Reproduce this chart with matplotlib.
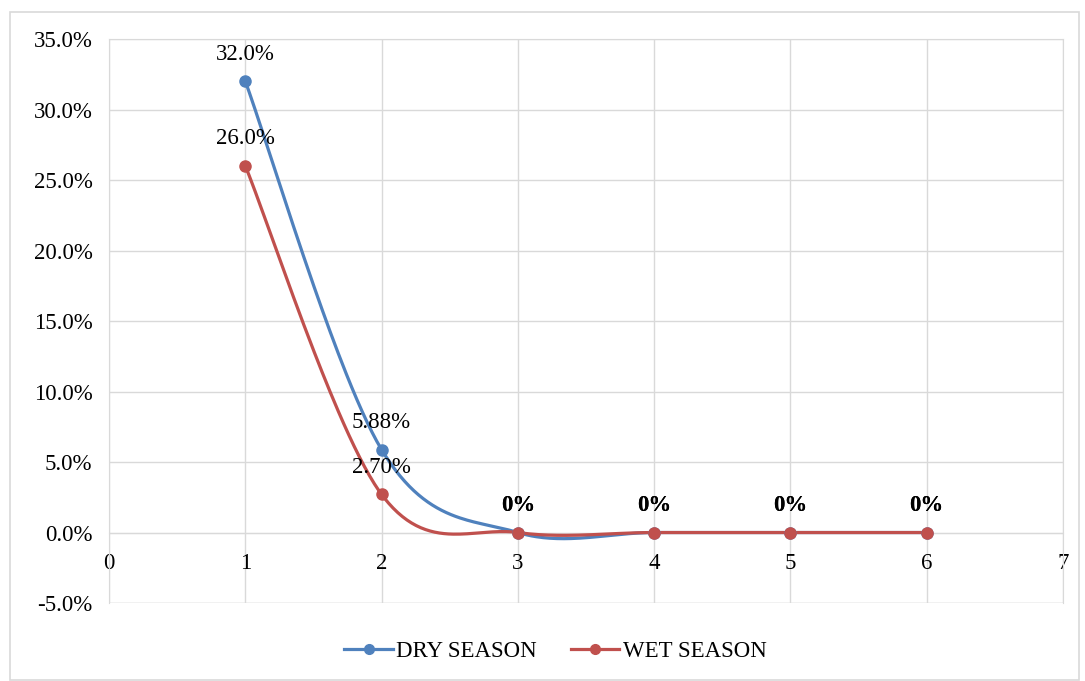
import numpy as np
import matplotlib.pyplot as plt
from matplotlib.lines import Line2D
from matplotlib.patches import Rectangle

# ── DATOS ────────────────────────────────────────────────────────────────────
x_vals      = [1, 2, 3, 4, 5, 6]
dry_season  = [32.0, 5.88, 0.0, 0.0, 0.0, 0.0]   # %
wet_season  = [26.0, 2.70, 0.0, 0.0, 0.0, 0.0]   # %
dry_labels  = ["32.0%", "5.88%", "0%", "0%", "0%", "0%"]
wet_labels  = ["26.0%", "2.70%", "0%", "0%", "0%", "0%"]

AZUL = "#4F81BD"
ROJO = "#C0504D"
GRIS = "#D9D9D9"
FS   = 16.5

plt.rcParams["font.family"] = ["Liberation Serif", "DejaVu Serif"]


def suavizar(xs, ys, n=60):
    """Curva suave tipo Catmull-Rom con tramos Bezier cúbicos."""
    p = np.column_stack([xs, ys]).astype(float)
    p = np.vstack([p[0], p, p[-1]])
    out = []
    for i in range(1, len(p) - 2):
        p0, p1, p2, p3 = p[i - 1], p[i], p[i + 1], p[i + 2]
        c1 = p1 + (p2 - p0) / 6
        c2 = p2 - (p3 - p1) / 6
        t = np.linspace(0, 1, n)[:, None]
        seg = ((1 - t) ** 3) * p1 + 3 * ((1 - t) ** 2) * t * c1 \
            + 3 * (1 - t) * t ** 2 * c2 + t ** 3 * p2
        out.append(seg)
    curva = np.vstack(out)
    return curva[:, 0], curva[:, 1]


fig = plt.figure(figsize=(10.85, 6.81), dpi=100)
ax = fig.add_axes([0.1005, 0.1145, 0.8792, 0.8282])

# marco exterior del gráfico
fig.patches.append(Rectangle((10 / 1085, 0.002), 1069 / 1085, 1 - 12 / 681 - 0.002,
                             transform=fig.transFigure, fill=False,
                             edgecolor=GRIS, linewidth=1.2))

for serie, color, etiquetas in [(dry_season, AZUL, dry_labels),
                                (wet_season, ROJO, wet_labels)]:
    sx, sy = suavizar(x_vals, serie)
    ax.plot(sx, sy, color=color, linewidth=2.3, solid_capstyle="round", zorder=3)
    ax.plot(x_vals, serie, "o", color=color, markersize=8, zorder=4)
    for xi, yi, txt in zip(x_vals, serie, etiquetas):
        ax.annotate(txt, (xi, yi), xytext=(0, 12), textcoords="offset points",
                    ha="center", va="bottom", fontsize=FS, color="black",
                    fontweight="bold" if yi == 0 else "normal")

# ── EJES ─────────────────────────────────────────────────────────────────────
ax.set_xlim(0, 7)
ax.set_ylim(-5, 35)
ax.set_xticks(range(0, 8))
ax.set_yticks(np.arange(-5, 36, 5))
ax.set_yticklabels([f"{v:.1f}%" for v in np.arange(-5, 36, 5)])
ax.grid(True, color=GRIS, linewidth=1)
ax.set_axisbelow(True)

for lado in ["top", "right", "left", "bottom"]:
    ax.spines[lado].set_color(GRIS)
# el eje x cruza en y = 0
ax.spines["bottom"].set_position(("data", 0))
ax.tick_params(axis="both", length=0, labelsize=FS, colors="black")
ax.tick_params(axis="x", pad=15)
ax.tick_params(axis="y", pad=12)
ax.axhline(-5, color=GRIS, linewidth=1, zorder=0)

# ── LEYENDA ──────────────────────────────────────────────────────────────────
handles = [Line2D([0], [0], color=AZUL, linewidth=2.3, marker="o", markersize=7,
                  label="DRY SEASON"),
           Line2D([0], [0], color=ROJO, linewidth=2.3, marker="o", markersize=7,
                  label="WET SEASON")]
fig.legend(handles=handles, loc="center", bbox_to_anchor=(0.512, 0.044),
           ncol=2, frameon=False, fontsize=FS, handlelength=2.1,
           handletextpad=0.15, columnspacing=1.5)

plt.savefig("out.png", dpi=100)
